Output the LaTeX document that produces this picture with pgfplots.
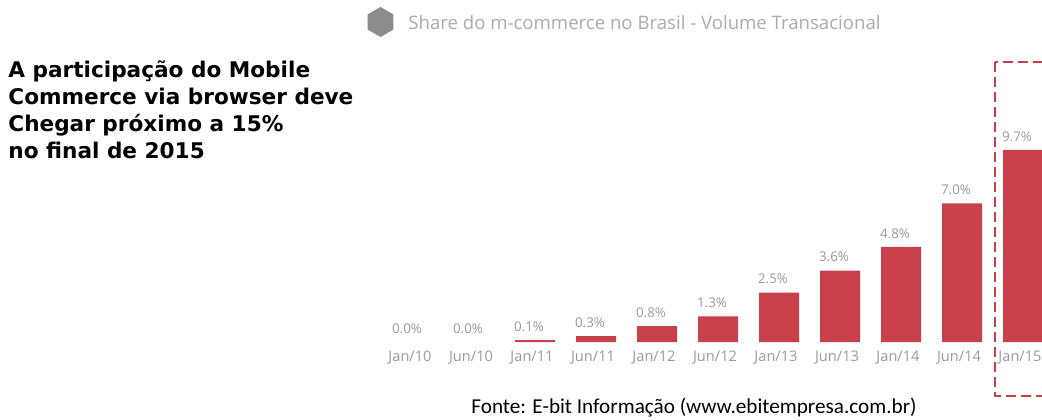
\documentclass[border=0pt]{standalone}
\usepackage{fontspec}
\usepackage{pgfplots}
\pgfplotsset{compat=1.18}
\usetikzlibrary{shapes.geometric}
\setmainfont{Open Sans}
\newfontfamily\leftfont{DejaVu Sans}
\newfontfamily\srcfont{Carlito}
\newfontfamily\titlefont{Open Sans}
\definecolor{barred}{HTML}{C8414A}
\definecolor{lblgray}{HTML}{9A9A9A}
\definecolor{titlegray}{HTML}{ABABAB}
\definecolor{hexgray}{HTML}{8C8C8C}
\begin{document}
\begin{tikzpicture}
\useasboundingbox (0,0) rectangle (521pt,209.5pt);
\clip (0,0) rectangle (521pt,209.5pt);
\begin{axis}[
  at={(191.25pt,38.5pt)}, anchor=south west,
  scale only axis, width=335.5pt, height=138.6pt,
  xmin=-0.5, xmax=10.5, ymin=0, ymax=14,
  axis line style={draw=none}, tick style={draw=none},
  ytick=\empty,
  xtick={0,1,2,3,4,5,6,7,8,9,10},
  xticklabels={Jan/10,Jun/10,Jan/11,Jun/11,Jan/12,Jun/12,Jan/13,Jun/13,Jan/14,Jun/14,Jan/15},
  xticklabel style={font=\fontsize{7.3}{8}\selectfont, text=lblgray, anchor=center, yshift=-3.5pt, xshift=-1.5pt, inner sep=0pt},
  ybar, bar width=20pt, bar shift=0pt,
  /pgf/number format/assume math mode=true,
  nodes near coords={\pgfmathprintnumber[fixed,fixed zerofill,precision=1]{\pgfplotspointmeta}\%},
  every node near coord/.append style={font=\fontsize{6.7}{7}\selectfont, text=lblgray, anchor=center, yshift=6.75pt, xshift=-3pt},
  clip=false,
]
% zero-valued periods: no visible bar, only the label
\addplot[fill=none, draw=none] coordinates {(0,0.0) (1,0.0)};
\addplot[fill=barred, draw=none] coordinates {
(2,0.1) (3,0.3) (4,0.8) (5,1.3) (6,2.5) (7,3.6) (8,4.8) (9,7.0) (10,9.7)
};
\end{axis}
\begin{scope}[x=0.5pt,y=-0.5pt,yshift=209.5pt]
\node[regular polygon, regular polygon sides=6, shape border rotate=30, fill=hexgray, inner sep=0pt, minimum size=15pt] at (380.5,22) {};
\node[anchor=base west, inner sep=0pt, text=titlegray, font=\titlefont\fontsize{9.3}{11}\selectfont] at (408,29) {Share do m-commerce no Brasil - Volume Transacional};
\node[anchor=base west, inner sep=0pt, font=\leftfont\bfseries\fontsize{10.8}{13}\selectfont] at (8,77) {A participação do Mobile};
\node[anchor=base west, inner sep=0pt, font=\leftfont\bfseries\fontsize{10.8}{13}\selectfont] at (8,104) {Commerce via browser deve};
\node[anchor=base west, inner sep=0pt, font=\leftfont\bfseries\fontsize{10.8}{13}\selectfont] at (8,131) {Chegar próximo a 15\%};
\node[anchor=base west, inner sep=0pt, font=\leftfont\bfseries\fontsize{10.8}{13}\selectfont] at (8,158) {no final de 2015};
\node[anchor=base, inner sep=0pt, font=\srcfont\fontsize{10.6}{12}\selectfont] at (694,413) {Fonte: E-bit Informação (www.ebitempresa.com.br)};
\draw[barred, line width=1pt, dash pattern=on 5pt off 2.5pt] (995,62) rectangle (1060,396);
\end{scope}
\end{tikzpicture}
\end{document}
